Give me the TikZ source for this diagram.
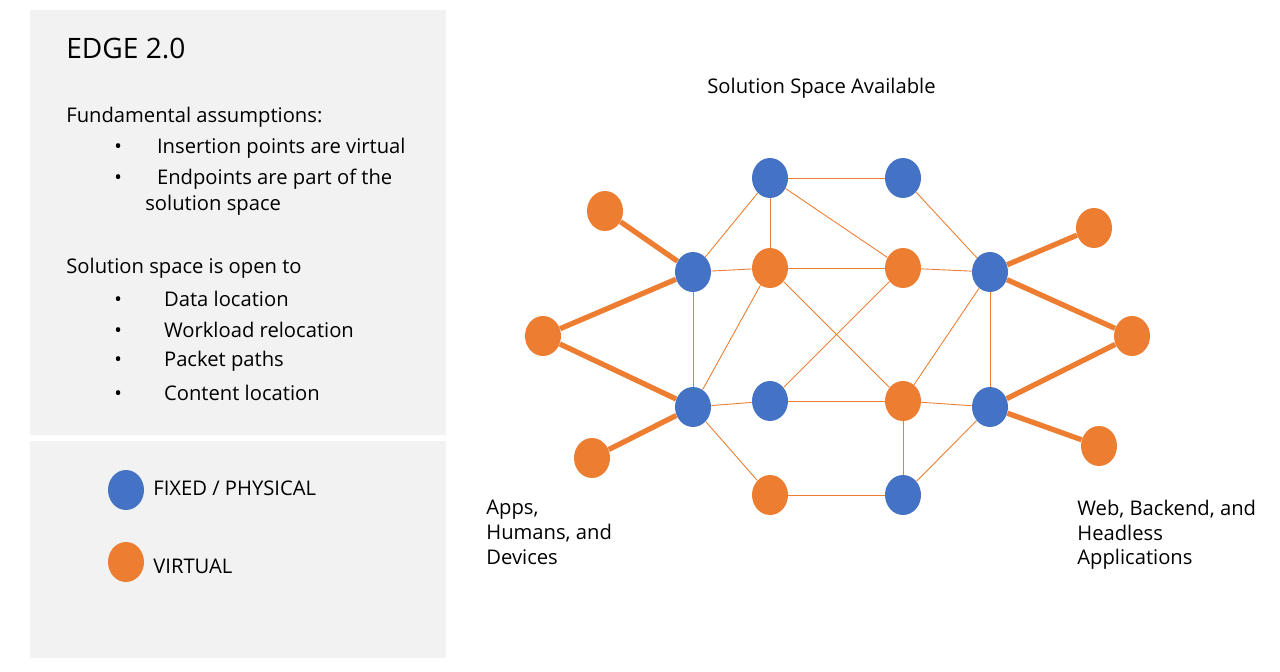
\documentclass[tikz,border=0pt]{standalone}
\usepackage{fontspec}
\setmainfont{Open Sans}
\usetikzlibrary{shapes.geometric}
\definecolor{fixedblue}{HTML}{4472C4}
\definecolor{virtorange}{HTML}{ED7D31}
\definecolor{panelgray}{HTML}{F2F2F2}
\tikzstyle{fixed}=[ellipse,fill=fixedblue,minimum width=0.72cm,minimum height=0.8cm,inner sep=0pt]
\tikzstyle{virtual}=[ellipse,fill=virtorange,minimum width=0.72cm,minimum height=0.8cm,inner sep=0pt]
\tikzstyle{link}=[draw=virtorange,line width=0.5pt]
\tikzstyle{uplink}=[draw=virtorange,line width=3pt]
\tikzstyle{txt}=[anchor=west,inner sep=0pt,font=\fontsize{11.5}{14}\selectfont]

\begin{document}
\begin{tikzpicture}[x=0.02cm,y=-0.02cm]
	\useasboundingbox (0,0) rectangle (1280,672);
	% panels
	\fill [panelgray] (30,10) rectangle (446,435);
	\fill [panelgray] (30,441) rectangle (446,658);
	\node [txt,font=\fontsize{16}{19}\selectfont] (title) at (66,49) {EDGE 2.0};
	\node [txt] (fa) at (66,117) {Fundamental assumptions:};
	\node [txt] (b1) at (114,148) {•\hspace{20pt}Insertion points are virtual};
	\node [txt] (b2) at (114,179) {•\hspace{20pt}Endpoints are part of the};
	\node [txt] (b2b) at (145,205) {solution space};
	\node [txt] (so) at (66,268) {Solution space is open to};
	\node [txt] (c1) at (114,299) {•\hspace{24pt}Data location};
	\node [txt] (c2) at (114,330) {•\hspace{24pt}Workload relocation};
	\node [txt] (c3) at (114,361) {•\hspace{24pt}Packet paths};
	\node [txt] (c4) at (114,393) {•\hspace{24pt}Content location};
	% legend
	\node [style=fixed] (lf) at (126,490) {};
	\node [style=virtual] (lv) at (126,562) {};
	\node [txt] (lft) at (153,488) {FIXED / PHYSICAL};
	\node [txt] (lvt) at (153,566) {VIRTUAL};
	% labels
	\node [txt] (top) at (707,88) {Solution Space Available};
	\node [txt,align=left,anchor=north west] (apps) at (486,500) {Apps,\\Humans, and\\Devices};
	\node [txt,align=left,anchor=north west] (web) at (1077,500) {Web, Backend, and\\Headless\\Applications};
	% network nodes
	\node [style=fixed] (t1) at (770,178) {};
	\node [style=fixed] (t2) at (903,178) {};
	\node [style=fixed] (l1) at (693,272) {};
	\node [style=virtual] (m1) at (770,268) {};
	\node [style=virtual] (m2) at (903,268) {};
	\node [style=fixed] (r1) at (990,272) {};
	\node [style=fixed] (l2) at (693,407) {};
	\node [style=fixed] (m3) at (770,401) {};
	\node [style=virtual] (m4) at (903,401) {};
	\node [style=fixed] (r2) at (990,407) {};
	\node [style=virtual] (u1) at (770,495) {};
	\node [style=fixed] (u2) at (903,495) {};
	\node [style=virtual] (o1) at (605,211) {};
	\node [style=virtual] (o2) at (543,336) {};
	\node [style=virtual] (o3) at (592,458) {};
	\node [style=virtual] (o4) at (1094,228) {};
	\node [style=virtual] (o5) at (1132,336) {};
	\node [style=virtual] (o6) at (1099,446) {};
	% links
	\begin{scope}[on background layer/.style={}]
	\foreach \a/\b in {t1/t2,t1/l1,t1/m1,t1/m2,t2/r1,l1/m1,m1/m2,m2/r1,l1/l2,m1/l2,m1/m4,m2/m3,m4/r1,r1/r2,l2/m3,m3/m4,m4/r2,l2/u1,m4/u2,u1/u2,u2/r2}
		\draw [style=link] (\a) -- (\b);
	\foreach \a/\b in {o1/l1,o2/l1,o2/l2,o3/l2,r1/o4,r1/o5,r2/o5,r2/o6}
		\draw [style=uplink] (\a) -- (\b);
	\end{scope}
\end{tikzpicture}
\end{document}
